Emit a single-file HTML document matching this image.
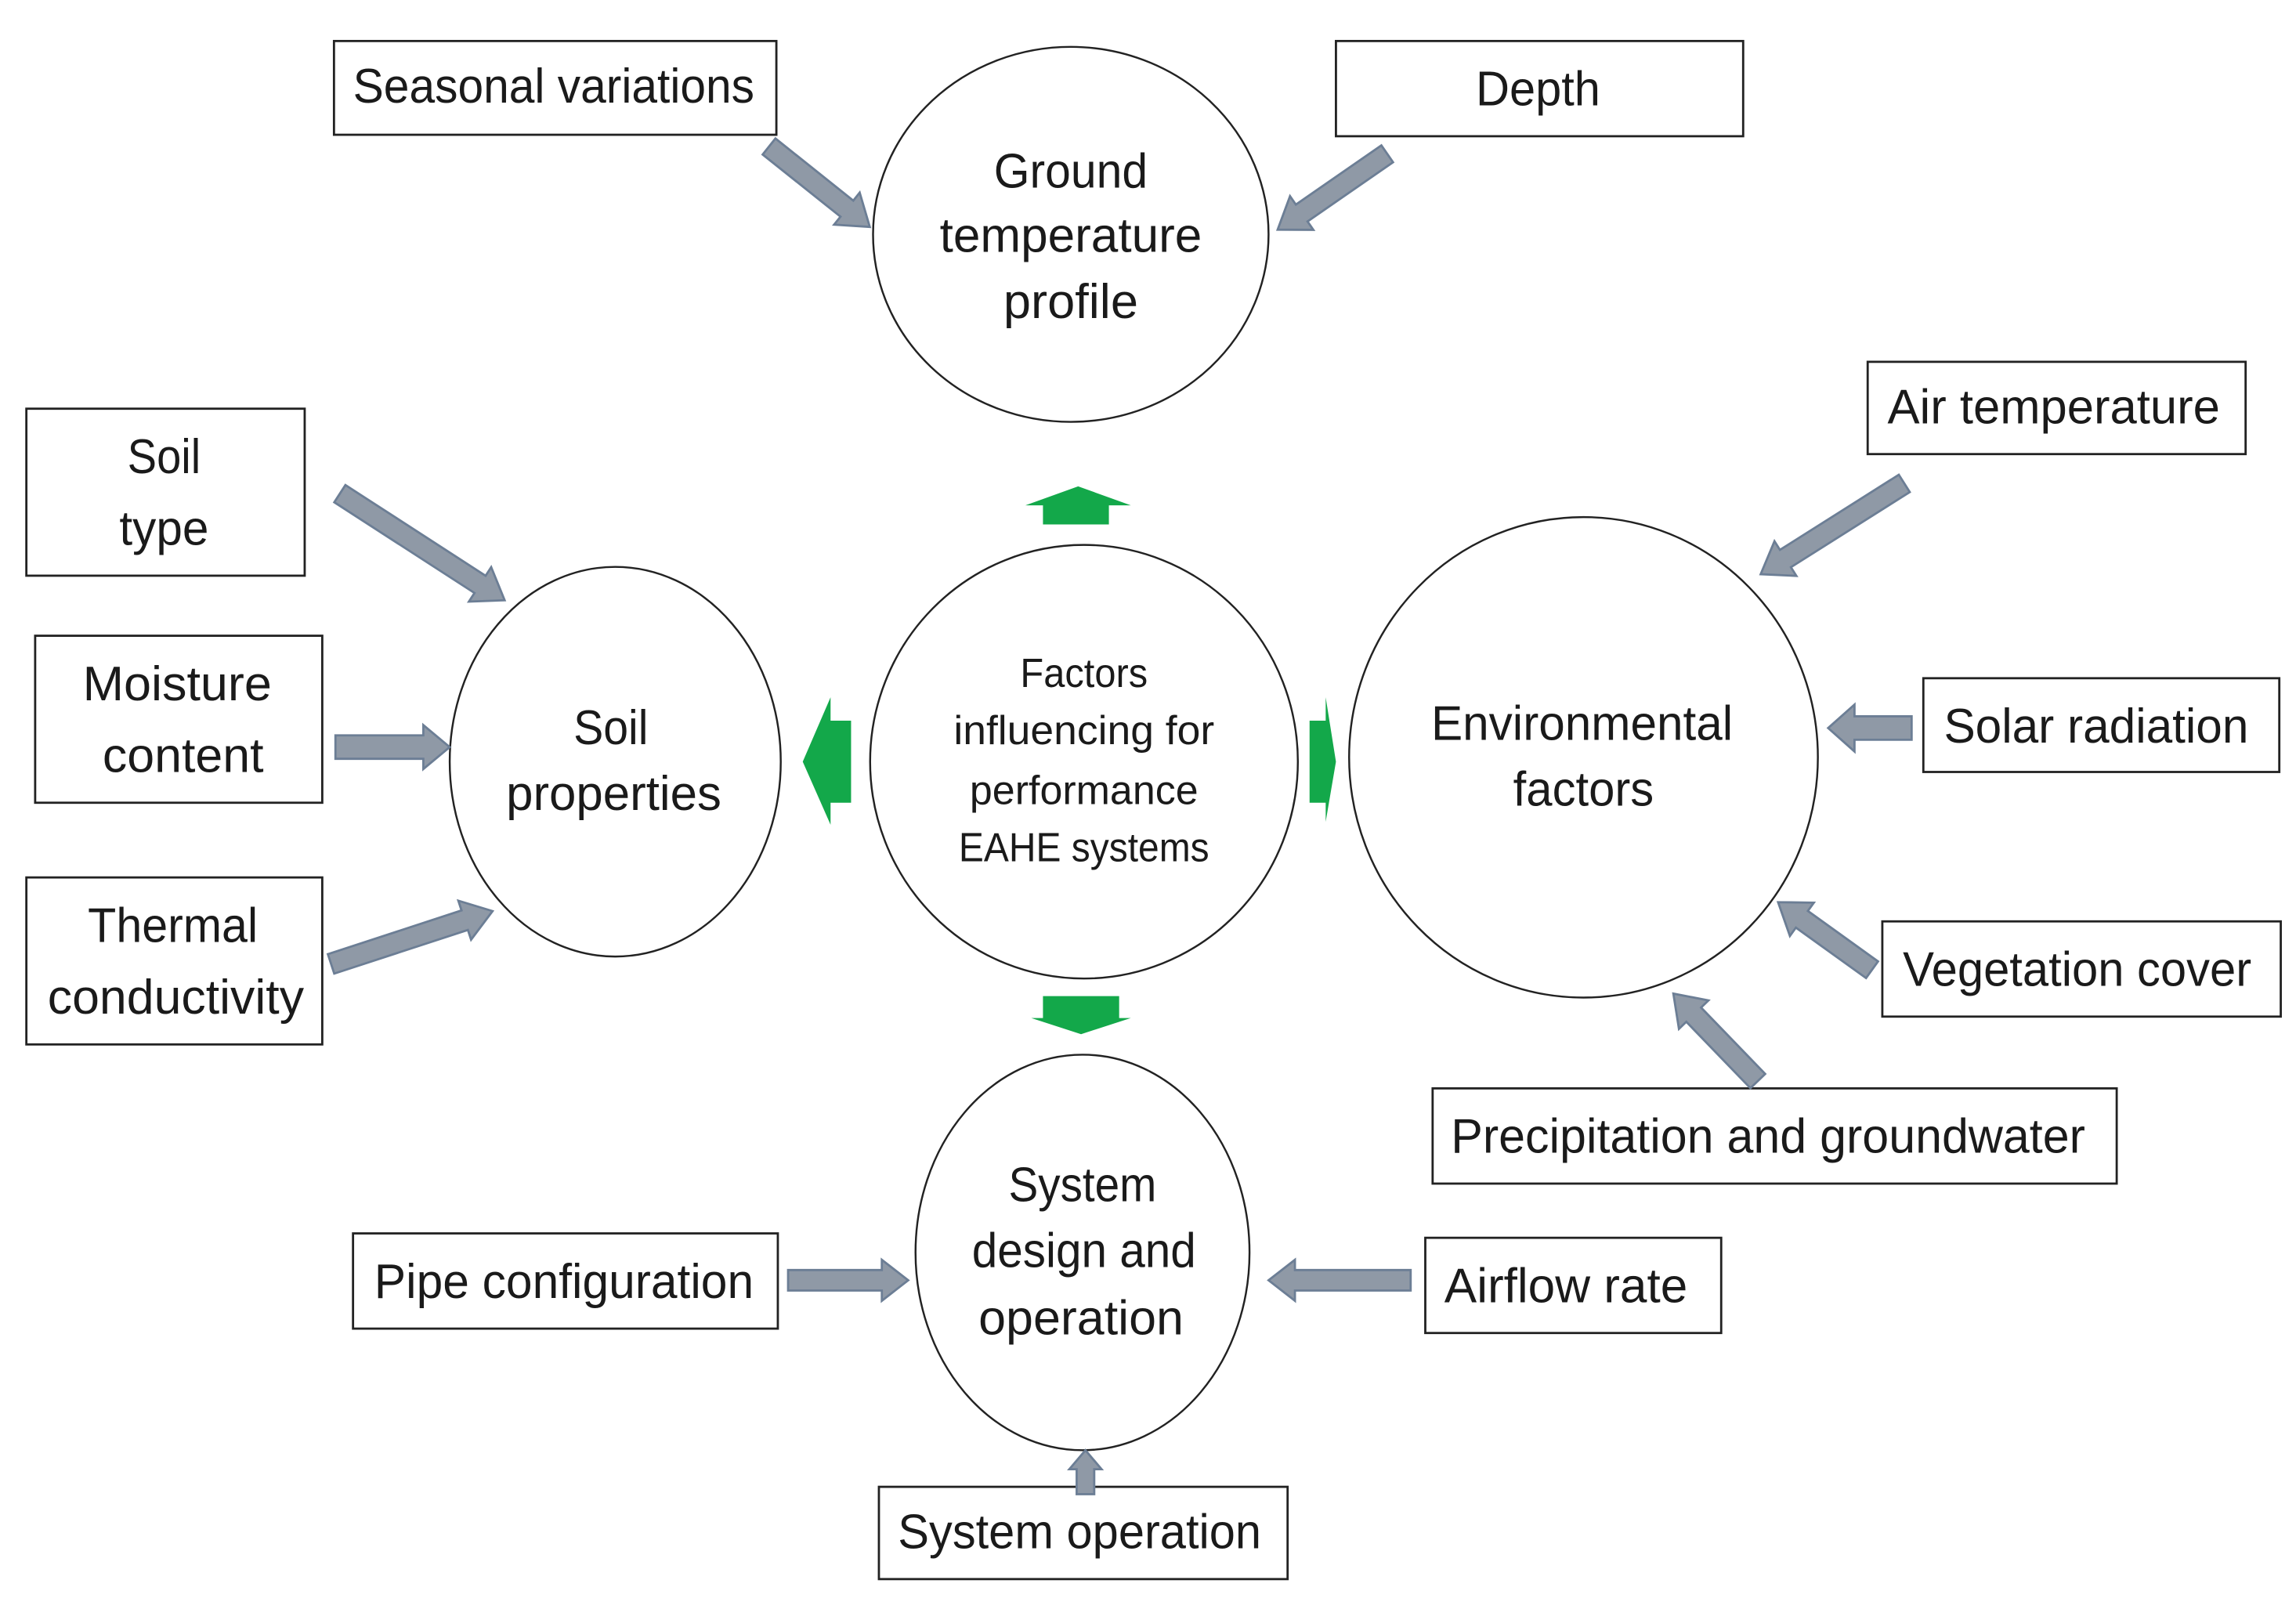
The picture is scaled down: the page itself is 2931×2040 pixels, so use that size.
<!DOCTYPE html>
<html><head><meta charset="utf-8"><style>html,body{margin:0;padding:0;background:#fff}svg{display:block}</style></head>
<body>
<svg width="2931" height="2040" viewBox="0 0 1567.4 1090.9" preserveAspectRatio="none" xmlns="http://www.w3.org/2000/svg">
<defs>
<style>
text{font-family:"Liberation Sans",sans-serif;font-size:33px;fill:#1a1a1a;text-anchor:middle}
.s{font-size:28px}
rect{fill:#fff;stroke:#222;stroke-width:1.5}
ellipse{fill:#fff;stroke:#222;stroke-width:1.3}
.g{fill:#8f99a6;stroke:#6c7e95;stroke-width:1.5}
.gr{fill:#13a84a}
</style>
</defs>
<rect x="0" y="0" width="1568" height="1091" style="fill:#fff;stroke:none"/>
<!-- ellipses -->
<ellipse cx="731" cy="160" rx="135" ry="128"/>
<ellipse cx="740" cy="520" rx="146" ry="148"/>
<ellipse cx="420" cy="520" rx="113" ry="133"/>
<ellipse cx="1081" cy="517" rx="160" ry="164"/>
<ellipse cx="739" cy="855" rx="114" ry="135"/>
<!-- boxes -->
<rect x="228" y="28" width="302" height="64"/>
<rect x="912" y="28" width="278" height="65"/>
<rect x="18" y="279" width="190" height="114"/>
<rect x="24" y="434" width="196" height="114"/>
<rect x="18" y="599" width="202" height="114"/>
<rect x="1275" y="247" width="258" height="63"/>
<rect x="1313" y="463" width="243" height="64"/>
<rect x="1285" y="629" width="272" height="65"/>
<rect x="978" y="743" width="467" height="65"/>
<rect x="241" y="842" width="290" height="65"/>
<rect x="973" y="845" width="202" height="65"/>
<rect x="600" y="1015" width="279" height="63"/>
<!-- gray arrows -->
<polygon class="g" transform="translate(525,100) rotate(38.6)" points="0,-7 68,-7 68,-14 88,0 68,14 68,7 0,7"/>
<polygon class="g" transform="translate(947,105) rotate(145.3)" points="0,-7 71,-7 71,-14 91,0 71,14 71,7 0,7"/>
<polygon class="g" transform="translate(232,337) rotate(32.9)" points="0,-7 114,-7 114,-14 134,0 114,14 114,7 0,7"/>
<polygon class="g" transform="translate(229,510) rotate(0)" points="0,-8 60,-8 60,-15 78,0 60,15 60,8 0,8"/>
<polygon class="g" transform="translate(226,658) rotate(-18.1)" points="0,-7 96,-7 96,-14 116,0 96,14 96,7 0,7"/>
<polygon class="g" transform="translate(1300,330) rotate(147.7)" points="0,-7 96,-7 96,-14 116,0 96,14 96,7 0,7"/>
<polygon class="g" transform="translate(1305,497) rotate(180)" points="0,-8 39,-8 39,-16 57,0 39,16 39,8 0,8"/>
<polygon class="g" transform="translate(1278,662) rotate(215.7)" points="0,-7 59,-7 59,-14 79,0 59,14 59,7 0,7"/>
<polygon class="g" transform="translate(1200,738) rotate(226)" points="0,-7 63,-7 63,-14 83,0 63,14 63,7 0,7"/>
<polygon class="g" transform="translate(538,874) rotate(0)" points="0,-7 64,-7 64,-14 82,0 64,14 64,7 0,7"/>
<polygon class="g" transform="translate(963,874) rotate(180)" points="0,-7 79,-7 79,-14 97,0 79,14 79,7 0,7"/>
<polygon class="g" transform="translate(741,1020) rotate(-90)" points="0,-6 17,-6 17,-11 30,0 17,11 17,6 0,6"/>
<!-- green arrows -->
<polygon class="gr" points="712,358 712,345 700,345 736,332 772,345 757,345 757,358"/>
<polygon class="gr" points="712,680 764,680 764,695 772,695 738,706 704,695 712,695"/>
<polygon class="gr" points="581,492 567,492 567,476 548,520 567,563 567,548 581,548"/>
<polygon class="gr" points="894,492 905,492 905,476 912,520 905,561 905,548 894,548"/>
<!-- texts -->
<text x="378" y="70" textLength="274" lengthAdjust="spacingAndGlyphs">Seasonal variations</text>
<text x="1050" y="72" textLength="85" lengthAdjust="spacingAndGlyphs">Depth</text>
<text x="731" y="128" textLength="105" lengthAdjust="spacingAndGlyphs">Ground</text>
<text x="731" y="172" textLength="179" lengthAdjust="spacingAndGlyphs">temperature</text>
<text x="731" y="217" textLength="92" lengthAdjust="spacingAndGlyphs">profile</text>
<text x="112" y="323" textLength="50" lengthAdjust="spacingAndGlyphs">Soil</text>
<text x="112" y="372" textLength="61" lengthAdjust="spacingAndGlyphs">type</text>
<text x="121" y="478" textLength="129" lengthAdjust="spacingAndGlyphs">Moisture</text>
<text x="125" y="527" textLength="110" lengthAdjust="spacingAndGlyphs">content</text>
<text x="118" y="643" textLength="116" lengthAdjust="spacingAndGlyphs">Thermal</text>
<text x="120" y="692" textLength="175" lengthAdjust="spacingAndGlyphs">conductivity</text>
<text x="417" y="508" textLength="51" lengthAdjust="spacingAndGlyphs">Soil</text>
<text x="419" y="553" textLength="147" lengthAdjust="spacingAndGlyphs">properties</text>
<text class="s" x="740" y="469" textLength="87" lengthAdjust="spacingAndGlyphs">Factors</text>
<text class="s" x="740" y="508" textLength="178" lengthAdjust="spacingAndGlyphs">influencing for</text>
<text class="s" x="740" y="549" textLength="156" lengthAdjust="spacingAndGlyphs">performance</text>
<text class="s" x="740" y="588" textLength="171" lengthAdjust="spacingAndGlyphs">EAHE systems</text>
<text x="1080" y="505" textLength="206" lengthAdjust="spacingAndGlyphs">Environmental</text>
<text x="1081" y="550" textLength="96" lengthAdjust="spacingAndGlyphs">factors</text>
<text x="1402" y="289" textLength="227" lengthAdjust="spacingAndGlyphs">Air temperature</text>
<text x="1431" y="507" textLength="208" lengthAdjust="spacingAndGlyphs">Solar radiation</text>
<text x="1418" y="673" textLength="238" lengthAdjust="spacingAndGlyphs">Vegetation cover</text>
<text x="1207" y="787" textLength="433" lengthAdjust="spacingAndGlyphs">Precipitation and groundwater</text>
<text x="739" y="820" textLength="101" lengthAdjust="spacingAndGlyphs">System</text>
<text x="740" y="865" textLength="153" lengthAdjust="spacingAndGlyphs">design and</text>
<text x="738" y="911" textLength="140" lengthAdjust="spacingAndGlyphs">operation</text>
<text x="385" y="886" textLength="259" lengthAdjust="spacingAndGlyphs">Pipe configuration</text>
<text x="1069" y="889" textLength="166" lengthAdjust="spacingAndGlyphs">Airflow rate</text>
<text x="737" y="1057" textLength="248" lengthAdjust="spacingAndGlyphs">System operation</text>
</svg>
</body></html>
